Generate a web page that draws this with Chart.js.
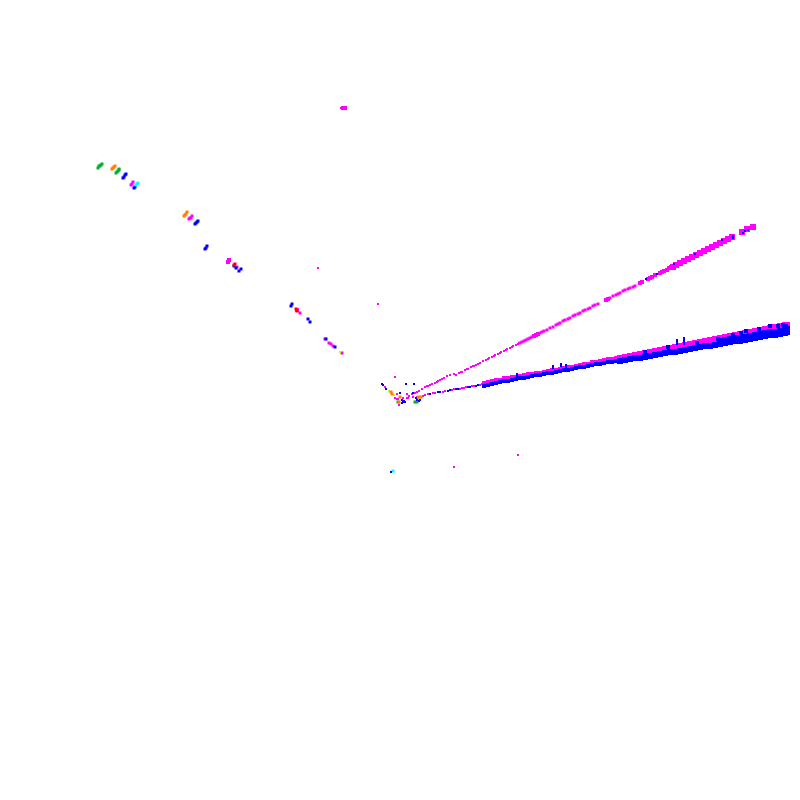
<!DOCTYPE html>
<html>
<head>
<meta charset="utf-8">
<script src="https://cdn.jsdelivr.net/npm/chart.js@4"></script>
<style>
  html, body { margin: 0; padding: 0; background: #fff; }
  canvas { display: block; }
</style>
</head>
<body>
<canvas id="scatter" width="800" height="800"></canvas>
<script>
// values, [x, y]
const blueBig = [[620,361],[625,360],[630,359],[635,358],[640,358],[645,357],[650,356],[655,355],[660,354],[665,353],[670,352],[675,352],[680,351],[685,350],[690,349],[695,348],[700,347],[705,346],[710,346],[715,345],[720,344],[725,343],[730,342],[735,341],[740,341],[745,340],[750,339],[755,338],[760,337],[765,336],[770,335],[775,335],[780,334],[785,333],[787,332],
  [720,341],[725,340],[730,339],[735,338],[740,338],[745,337],[750,336],[755,335],[760,334],[765,333],[770,332],[775,332],[780,331],[785,330],[787,329]];
const blueMid = [[484,386],[488,385],[492,384],[496,383],[500,382],[504,381],[508,381],[512,380],[516,379],[520,378],[524,378],[528,377],[532,376],[536,375],[540,375],[544,374],[548,373],[552,373],[556,372],[560,371],[564,370],[568,370],[572,369],[576,368],[580,367],[584,367],[588,366],[592,365],[596,364],[600,364],[604,363],[608,362],[612,362],[616,361],
  [645,352],[668,347],[697,343],[718,339],[733,335],[741,333],[746,331],[759,329],[770,326],[778,326],[783,325],[786,326]];
const blueSmall = [[553,366],[553,368],[561,364],[561,366],[566,365],[566,367],[517,374],[517,376],[677,340],[677,342],[677,344],[684,338],[684,340],[684,342],[684,344],
  [430,394],[438,392],[440,392],[448,391],[450,390],[456,389],[458,389],[468,387],[470,387],[476,386],[478,385],[490,383],
  [646,279],[657,274],[674,264],[695,254],[722,240],[733,238],[733,236],[743,233],[745,231],[748,230],
  [382,384],[383,385],[386,389],[406,384],[414,384],[400,393],[402,400],[403,402],[402,403],[404,401],[405,402],[420,400],[417,400],[419,401],[416,398],[413,393],[391,472]];
const blueCluster = [[123,178],[124,177],[125,175],[126,174],[134,188],[135,187],[195,224],[196,223],[197,222],[198,221],[205,249],[206,248],[207,246],[234,266],[236,268],[239,271],[241,269],
  [291,306],[292,304],[308,319],[310,322],[326,339],[335,347]];
const magentaBig = [[620,358],[625,357],[630,356],[635,355],[640,354],[645,353],[650,352],[655,351],[660,350],[665,349],[670,348],[675,347],[680,346],[685,345],[690,344],[695,343],[700,342],[705,341],[710,340],[715,339],[720,338],[725,337],[730,336],[735,335],[740,334],[745,333],[750,332],[755,331],[760,330],[765,329],[770,328],[775,327],[780,326],[785,325],[787,325],
  [673,267],[676,265],[680,263],[684,261],[688,259],[692,257],[696,255],[700,253],[704,251],[708,249],[712,247],[716,245],[720,243],[724,241],[728,239],[732,237],[742,232],[747,229],[753,227]];
const magentaMid = [[484,383],[488,382],[492,381],[496,380],[500,380],[504,378],[508,378],[512,377],[516,377],[520,376],[524,375],[528,374],[532,374],[536,373],[540,373],[544,372],[548,371],[552,370],[556,370],[560,369],[564,368],[568,367],[572,367],[576,366],[580,365],[584,364],[588,364],[592,362],[596,362],[600,361],[604,360],[608,359],[612,359],[616,358],
  [534,336],[536,335],[538,334],[606,300],[608,299],
  [640,283],[642,282],[650,278],[652,277],[655,275],[660,273],[662,272],[664,271],[667,270],[669,268],[671,267],[648,279],
  [228,262],[229,260],[297,310],[343,108],[345,108]];
const magentaThin = [[520,343],[522,342],[524,341],[526,340],[528,339],[530,338],[532,337],[540,333],[542,332],[544,331],[547,330],[550,328],[553,327],[556,325],[558,324],[560,323],[563,321],[565,320],[568,319],[570,318],[573,316],[575,315],[578,314],[580,313],[583,311],[585,310],[588,309],[590,308],[593,306],[595,305],[598,304],[610,298],[613,296],[616,295],[618,294],[620,293],[623,291],[625,290],[628,289],[630,288],[633,287],[635,286]];
const magentaCluster = [[131,185],[132,184],[133,182],[189,219],[190,218],[191,218],[192,216],[237,267],[300,313],[325,339],[329,343],[331,344],[333,346],[342,353]];
const magentaSmall = [[407,398],[409,396],[412,394],[415,393],[417,392],[419,391],[422,389],[425,387],[427,386],[428,386],[430,385],[432,384],[435,383],[437,382],[438,381],[440,380],[442,379],[444,378],[447,376],[450,375],[454,374],[456,375],[459,373],[461,372],[462,372],[465,370],[467,369],[468,369],[471,367],[473,366],[474,366],[476,365],[478,364],[480,363],[483,361],[486,360],[488,359],[489,358],[492,357],[494,356],[495,355],[498,354],[500,353],[501,352],[504,351],[506,350],[507,349],[510,348],[512,347],[513,346],[516,345],[518,344],[519,343],
  [423,396],[425,395],[428,394],[433,393],[435,393],[443,392],[445,391],[452,390],[454,389],[460,389],[462,388],[464,388],[466,387],[472,386],[474,386],[480,385],[482,384],
  [318,268],[378,304],[341,108],[346,108],
  [395,377],[385,387],[397,394],[407,394],[395,398],[397,399],[398,399],[399,405],[403,398],[408,398],[413,397],[417,397],[414,393],[454,467],[518,455]];
const orangePoints = [[112,169],[113,168],[114,167],[115,166],[184,216],[185,215],[186,214],[187,212],[391,392],[392,394],[399,402],[400,397],[418,398],[419,397],[421,397]];
const greenPoints = [[98,168],[99,166],[100,166],[101,165],[102,164],[116,173],[117,172],[118,171],[119,170],[119,169],[415,402],[417,402],[398,402]];
const cyanPoints = [[136,185],[137,184],[138,183],[393,471]];
const limePoints = [[389,391],[340,352],[394,395],[418,400]];
const redPoints = [[234,265],[235,264],[296,309],[297,311]];

// colour and point radius for every list
const seriesStyles = [
  [blueSmall, '#0000ff', 1.415],
  [cyanPoints, '#00ffff', 2.12],
  [orangePoints, '#ff8000', 2.12],
  [limePoints, '#c0ff00', 1.415],
  [redPoints, '#ff0000', 2.12],
  [greenPoints, '#00b030', 2.12],
  [blueCluster, '#0000ff', 2.12],
  [magentaCluster, '#ff00ff', 2.12],
  [blueMid, '#0000ff', 2.83],
  [magentaSmall, '#ff00ff', 1.415],
  [blueBig, '#0000ff', 4.243],
  [magentaThin, '#ff00ff', 2.12],
  [magentaMid, '#ff00ff', 2.83],
  [magentaBig, '#ff00ff', 4.243]
];

new Chart(document.getElementById('scatter'), {
  type: 'scatter',
  data: {
    datasets: seriesStyles.map(([points, color, radius]) => ({
      data: points.map(([x, y]) => ({ x, y })),
      backgroundColor: color,
      borderWidth: 0,
      pointStyle: 'rect',
      pointRadius: radius,
      clip: false
    }))
  },
  options: {
    responsive: false,
    animation: false,
    layout: { padding: 0, autoPadding: false },
    plugins: { legend: { display: false }, tooltip: { enabled: false } },
    scales: {
      x: { type: 'linear', display: false, min: 0, max: 800 },
      y: { type: 'linear', display: false, min: 0, max: 800, reverse: true }
    }
  }
});
</script>
</body>
</html>
